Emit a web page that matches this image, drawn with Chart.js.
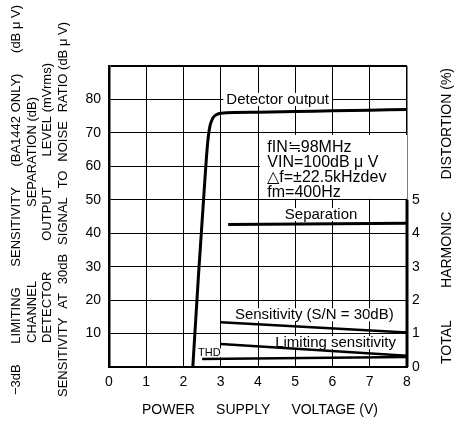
<!DOCTYPE html>
<html>
<head>
<meta charset="utf-8">
<script src="https://cdn.jsdelivr.net/npm/chart.js@4"></script>
<style>
  html, body { margin: 0; padding: 0; background: #fff; }
  #wrap { width: 466px; height: 433px; }
</style>
</head>
<body>
<div id="wrap"><canvas id="chart" width="466" height="433"></canvas></div>
<script>
// values
const voltageTicks = [0, 1, 2, 3, 4, 5, 6, 7, 8];
const leftTicks = [10, 20, 30, 40, 50, 60, 70, 80];
const rightTicks = [0, 1, 2, 3, 4, 5];

const detectorV = [2.25, 2.4, 2.55, 2.64, 2.7, 2.78, 2.88, 3.0, 4, 5, 6, 7, 8];
const detectorLevel = [0, 27, 52, 66, 71.5, 74.3, 75.4, 75.9, 76.2, 76.4, 76.6, 76.8, 77];
const separationV = [3.2, 8];
const separationDb = [42.6, 43.0];
const sensitivityV = [3, 8];
const sensitivityDb = [13.4, 10.3];
const limitingV = [3, 8];
const limitingDb = [6.9, 3.4];
const thdV = [2.5, 8];
const thdPct = [0.24, 0.3];

const FONT = '"Liberation Sans", Arial, Helvetica, sans-serif';

const pts = (xs, ys) => xs.map((x, i) => ({ x: x, y: ys[i] }));

function spread(ctx, words, x, y0, y1) {
    // draws words bottom-to-top, spreading them between y0 and y1
    ctx.save();
    ctx.translate(x, y0);
    ctx.rotate(-Math.PI / 2);
    const widths = words.map(w => ctx.measureText(w).width);
    const total = widths.reduce((a, b) => a + b, 0);
    const gap = words.length > 1 ? ((y0 - y1) - total) / (words.length - 1) : 0;
    let pos = 0;
    words.forEach((w, i) => { ctx.fillText(w, pos, 0); pos += widths[i] + gap; });
    ctx.restore();
}

function spreadH(ctx, words, x0, x1, y) {
    const widths = words.map(w => ctx.measureText(w).width);
    const total = widths.reduce((a, b) => a + b, 0);
    const gap = ((x1 - x0) - total) / (words.length - 1);
    let pos = x0;
    words.forEach((w, i) => { ctx.fillText(w, pos, y); pos += widths[i] + gap; });
}

const labels = [
    { text: 'Detector output', x: 3.15, y: 80, size: 15 },
    { text: 'Separation', x: 4.72, y: 45.6, size: 15 },
    { text: 'Sensitivity (S/N = 30dB)', x: 3.38, y: 15.6, size: 15 },
    { text: 'Limiting sensitivity', x: 4.46, y: 7.3, size: 15 },
    { text: 'THD', x: 2.39, y: 4.2, size: 11 }
];
const infoLines = ['fIN\u225298MHz', 'VIN=100dB \u03bc V', '\u25b3f=\u00b122.5kHzdev', 'fm=400Hz'];

const decorPlugin = {
    id: 'decor',
    beforeDatasetsDraw(chart) {
        const { ctx, scales: { x, y } } = chart;
        ctx.save();
        ctx.fillStyle = '#fff';
        labels.forEach(l => {
            ctx.font = l.size + 'px ' + FONT;
            const w = ctx.measureText(l.text).width;
            const px = x.getPixelForValue(l.x), py = y.getPixelForValue(l.y);
            ctx.fillRect(px - 3, py - l.size / 2 + 1, w + 6, l.size - 2);
        });
        // condition box
        const bx = x.getPixelForValue(4.05), by = y.getPixelForValue(69.4);
        ctx.fillRect(bx, by, x.getPixelForValue(8) - bx, y.getPixelForValue(50.3) - by);
        ctx.restore();
    },
    afterDatasetsDraw(chart) {
        const { ctx, scales: { x, y, y2 } } = chart;
        ctx.save();
        ctx.fillStyle = '#000';
        ctx.textBaseline = 'middle';
        ctx.textAlign = 'left';
        labels.forEach(l => {
            ctx.font = l.size + 'px ' + FONT;
            ctx.fillText(l.text, x.getPixelForValue(l.x), y.getPixelForValue(l.y));
        });
        ctx.font = '16px ' + FONT;
        const ix = x.getPixelForValue(4.25);
        infoLines.forEach((t, i) => ctx.fillText(t, ix, 148 + i * 15));

        // thick right axis segment for the THD scale
        ctx.strokeStyle = '#000';
        ctx.lineWidth = 3;
        ctx.beginPath();
        ctx.moveTo(x.right, y2.getPixelForValue(0));
        ctx.lineTo(x.right, y2.getPixelForValue(5));
        ctx.stroke();

        // axis titles
        ctx.font = '13px ' + FONT;
        spread(ctx, ['\u22123dB', 'LIMITING', 'SENSITIVITY', '(BA1442 ONLY)', '(dB \u03bc V)'], 16, 395, 5);
        spread(ctx, ['CHANNEL', 'SEPARATION (dB)'], 32, 343, 97);
        spread(ctx, ['DETECTOR', 'OUTPUT', 'LEVEL (mVrms)'], 47, 343, 63);
        spread(ctx, ['SENSITIVITY', 'AT', '30dB', 'SIGNAL', 'TO', 'NOISE', 'RATIO (dB \u03bc V)'], 63, 397, 22);
        ctx.font = '14px ' + FONT;
        spread(ctx, ['TOTAL', 'HARMONIC', 'DISTORTION (%)'], 447, 364, 68);
        spreadH(ctx, ['POWER', 'SUPPLY', 'VOLTAGE (V)'], 142, 378, 410);
        ctx.restore();
    }
};

const lineStyle = (w) => ({
    borderColor: '#000',
    borderWidth: w,
    pointRadius: 0,
    fill: false,
    showLine: true,
    borderCapStyle: 'butt'
});

new Chart(document.getElementById('chart').getContext('2d'), {
    type: 'scatter',
    data: {
        datasets: [
            { label: 'Detector output', data: pts(detectorV, detectorLevel), yAxisID: 'y', cubicInterpolationMode: 'monotone', ...lineStyle(3) },
            { label: 'Separation', data: pts(separationV, separationDb), yAxisID: 'y', ...lineStyle(3) },
            { label: 'Sensitivity (S/N = 30dB)', data: pts(sensitivityV, sensitivityDb), yAxisID: 'y', ...lineStyle(2.5) },
            { label: 'Limiting sensitivity', data: pts(limitingV, limitingDb), yAxisID: 'y', ...lineStyle(2.5) },
            { label: 'THD', data: pts(thdV, thdPct), yAxisID: 'y2', ...lineStyle(2.5) }
        ]
    },
    options: {
        responsive: false,
        animation: false,
        devicePixelRatio: 1,
        layout: { padding: { top: 66, left: 0, right: 0, bottom: 0 } },
        plugins: {
            legend: { display: false },
            tooltip: { enabled: false }
        },
        scales: {
            x: {
                type: 'linear',
                min: 0,
                max: 8,
                afterBuildTicks: (s) => { s.ticks = voltageTicks.map(v => ({ value: v })); },
                ticks: { color: '#000', font: { size: 14, family: FONT }, padding: 7, maxRotation: 0 },
                grid: { color: '#000', lineWidth: (c) => (c.tick && c.tick.value === 8 ? 1.5 : 1), drawTicks: false },
                border: { color: '#000', width: 2 },
                afterFit: (s) => { s.height = 66; }
            },
            y: {
                position: 'left',
                min: 0,
                max: 90,
                afterBuildTicks: (s) => { s.ticks = [0, ...leftTicks, 90].map(v => ({ value: v })); },
                ticks: {
                    color: '#000',
                    font: { size: 14, family: FONT },
                    padding: 8,
                    callback: (v) => (leftTicks.includes(v) ? String(v) : '')
                },
                grid: { color: '#000', lineWidth: (c) => (c.tick && c.tick.value === 90 ? 2 : 1), drawTicks: false },
                border: { color: '#000', width: 2.5 },
                afterFit: (s) => { s.width = 109; }
            },
            y2: {
                position: 'right',
                min: 0,
                max: 9,
                afterBuildTicks: (s) => { s.ticks = rightTicks.map(v => ({ value: v })); },
                ticks: { color: '#000', font: { size: 14, family: FONT }, padding: 5 },
                grid: { display: false, drawTicks: false },
                border: { display: false },
                afterFit: (s) => { s.width = 59; }
            }
        }
    },
    plugins: [decorPlugin]
});
</script>
</body>
</html>
